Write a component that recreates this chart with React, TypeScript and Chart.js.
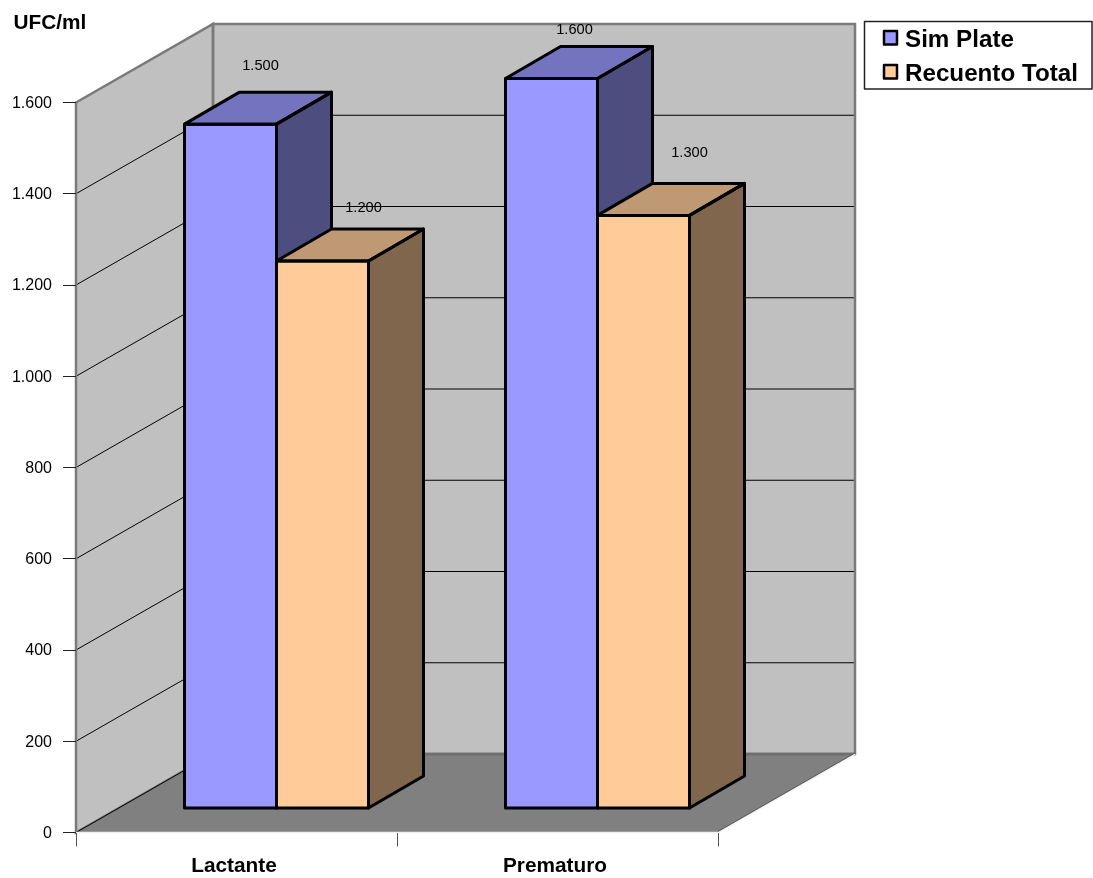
import React, { useEffect, useRef } from "react";
import { Chart, registerables } from "chart.js";

Chart.register(...registerables);

const categories = ["Lactante", "Prematuro"];
const seriesNames = ["Sim Plate", "Recuento Total"];
const simPlate = [1500, 1600];
const recuentoTotal = [1200, 1300];
const yTicks = [0, 200, 400, 600, 800, 1000, 1200, 1400, 1600];

const FONT = "'Liberation Sans', Arial, sans-serif";

// Projection of the 3D box: how far the back wall sits from the front plane,
// where the bars start inside it, and how deep each bar is.
const WALL = { dx: 137, dy: -78.5 };
const BAR_START = { dx: 40, dy: -24 };
const BAR_DEPTH = { dx: 55, dy: -32 };

const faces = [
  { front: "#9999FF", top: "#7373BF", side: "#4D4D80" },
  { front: "#FFCC99", top: "#BF9973", side: "#80664D" },
];

// Value labels float a little off the back edge of each bar top.
const labelNudge = [
  [{ x: 30, y: -26 }, { x: 23, y: -17 }],
  [{ x: 41, y: -21 }, { x: 46, y: -30 }],
];

const fmt = (v: number) => String(v).replace(/\B(?=(\d{3})+$)/g, ".");

const poly = (ctx: CanvasRenderingContext2D, pts: number[][]) => {
  ctx.beginPath();
  pts.forEach(([x, y], i) => (i ? ctx.lineTo(x, y) : ctx.moveTo(x, y)));
  ctx.closePath();
};

const barBox = (el: any) => {
  const l = el.x - el.width / 2;
  const r = el.x + el.width / 2;
  return { l, r, t: el.y, b: el.base };
};

const box3d = {
  id: "box3d",
  // Slide the bars off the front plane of the box
  afterDatasetsUpdate(chart: any) {
    chart.getSortedVisibleDatasetMetas().forEach((meta: any) => {
      meta.data.forEach((el: any) => {
        el.x += BAR_START.dx;
        el.y += BAR_START.dy;
        el.base += BAR_START.dy;
      });
    });
  },
  // Side wall, back wall, floor and their gridlines
  beforeDraw(chart: any) {
    const { ctx, chartArea: a, scales } = chart;
    const y = scales.y;
    const y0 = y.getPixelForValue(0);
    const yMax = y.getPixelForValue(1600);
    const bl = a.left + WALL.dx;
    const br = a.right + WALL.dx;
    const bt = yMax + WALL.dy;
    const bb = y0 + WALL.dy;
    ctx.save();
    ctx.lineJoin = "miter";

    ctx.fillStyle = "#C0C0C0";
    poly(ctx, [[a.left, yMax], [bl, bt], [bl, bb], [a.left, y0]]);
    ctx.fill();
    ctx.beginPath();
    ctx.rect(bl, bt, br - bl, bb - bt);
    ctx.fill();

    ctx.strokeStyle = "#000000";
    ctx.lineWidth = 1;
    yTicks.slice(1, -1).forEach((v) => {
      const p = y.getPixelForValue(v);
      ctx.beginPath();
      ctx.moveTo(a.left, p);
      ctx.lineTo(bl, p + WALL.dy);
      ctx.lineTo(br, p + WALL.dy);
      ctx.stroke();
    });

    ctx.fillStyle = "#808080";
    poly(ctx, [[a.left, y0], [bl, bb], [br, bb], [a.right, y0]]);
    ctx.fill();

    ctx.strokeStyle = "#7A7A7A";
    ctx.lineWidth = 2.5;
    poly(ctx, [[a.left, yMax], [bl, bt], [bl, bb], [a.left, y0]]);
    ctx.stroke();
    ctx.beginPath();
    ctx.rect(bl, bt, br - bl, bb - bt);
    ctx.stroke();

    ctx.strokeStyle = "#6E6E6E";
    ctx.beginPath();
    ctx.moveTo(bl, bb);
    ctx.lineTo(br, bb);
    ctx.stroke();

    ctx.strokeStyle = "#000000";
    ctx.lineWidth = 1;
    ctx.beginPath();
    ctx.moveTo(a.left, y0);
    ctx.lineTo(bl, bb);
    ctx.stroke();

    // Pale front and right rims of the floor
    ctx.strokeStyle = "#F0F0F0";
    ctx.lineWidth = 1.5;
    ctx.beginPath();
    ctx.moveTo(a.left, y0);
    ctx.lineTo(a.right, y0);
    ctx.lineTo(br, bb);
    ctx.stroke();
    ctx.strokeStyle = "#404040";
    ctx.lineWidth = 0.8;
    ctx.beginPath();
    ctx.moveTo(a.right, y0 - 1);
    ctx.lineTo(br, bb - 1);
    ctx.stroke();

    ctx.restore();
  },
  // The library paints back-to-front by reversed index; the boxes here need
  // the opposite, so its per-dataset pass is skipped and done in index order.
  beforeDatasetDraw() {
    return false;
  },
  afterDatasetsDraw(chart: any) {
    const { ctx } = chart;
    ctx.save();

    chart.data.datasets.forEach((_: any, i: number) => {
      const meta = chart.getDatasetMeta(i);
      const colors = faces[i];
      const d = BAR_DEPTH;
      meta.data.forEach((el: any) => {
        const { r, l, t, b } = barBox(el);
        ctx.fillStyle = colors.side;
        poly(ctx, [[r, t], [r + d.dx, t + d.dy], [r + d.dx, b + d.dy], [r, b]]);
        ctx.fill();
        ctx.fillStyle = colors.top;
        poly(ctx, [[l, t], [l + d.dx, t + d.dy], [r + d.dx, t + d.dy], [r, t]]);
        ctx.fill();
      });
      meta.controller.draw();
      ctx.strokeStyle = "#000000";
      ctx.lineWidth = 3;
      ctx.lineJoin = "round";
      meta.data.forEach((el: any) => {
        const { r, l, t, b } = barBox(el);
        poly(ctx, [[l, t], [r, t], [r, b], [l, b]]);
        ctx.stroke();
        poly(ctx, [[r, t], [r + d.dx, t + d.dy], [r + d.dx, b + d.dy], [r, b]]);
        ctx.stroke();
        poly(ctx, [[l, t], [l + d.dx, t + d.dy], [r + d.dx, t + d.dy], [r, t]]);
        ctx.stroke();
      });
    });

    // Value labels, axis caption and legend box
    ctx.fillStyle = "#000000";
    ctx.textBaseline = "middle";

    ctx.font = `14.6px ${FONT}`;
    ctx.textAlign = "center";
    chart.data.datasets.forEach((ds: any, i: number) => {
      chart.getDatasetMeta(i).data.forEach((el: any, j: number) => {
        const n = labelNudge[i][j];
        ctx.fillText(fmt(ds.data[j]), el.x + n.x, el.y + BAR_DEPTH.dy + n.y);
      });
    });

    ctx.textAlign = "left";
    ctx.font = `bold 20.8px ${FONT}`;
    ctx.fillText("UFC/ml", 13.5, 23);

    ctx.strokeStyle = "#222222";
    ctx.lineWidth = 1.5;
    ctx.fillStyle = "#FFFFFF";
    ctx.beginPath();
    ctx.rect(864.5, 21.5, 227.5, 67.5);
    ctx.fill();
    ctx.stroke();

    ctx.font = `bold 24.2px ${FONT}`;
    seriesNames.forEach((name, i) => {
      const rowY = 38 + i * 34;
      ctx.fillStyle = faces[i].front;
      ctx.strokeStyle = "#000000";
      ctx.lineWidth = 2.5;
      ctx.beginPath();
      ctx.rect(884, rowY - 7, 13, 13.5);
      ctx.fill();
      ctx.stroke();
      ctx.fillStyle = "#000000";
      ctx.fillText(name, 905, rowY + 2);
    });
    ctx.restore();
  },
};

export default function App() {
  const ref = useRef<HTMLCanvasElement>(null);

  useEffect(() => {
    const barStyle = { categoryPercentage: 184 / 321, barPercentage: 1, borderWidth: 0 };
    const chart = new Chart(ref.current!, {
      type: "bar",
      data: {
        labels: categories,
        datasets: [
          { label: seriesNames[0], data: simPlate, backgroundColor: faces[0].front, ...barStyle },
          { label: seriesNames[1], data: recuentoTotal, backgroundColor: faces[1].front, ...barStyle },
        ],
      },
      options: {
        animation: false,
        responsive: false,
        layout: { padding: { top: 102.5, right: 375, left: 0, bottom: 0 } },
        plugins: { legend: { display: false }, title: { display: false }, tooltip: { enabled: false } },
        scales: {
          x: {
            offset: true,
            afterFit: (s: any) => { s.height = 45.5; },
            border: { display: false },
            grid: { offset: true, drawOnChartArea: false, tickLength: 14, color: "#555555", tickWidth: 1 },
            ticks: { color: "#000000", font: { family: FONT, size: 20.8, weight: "bold" }, padding: 7, labelOffset: -2.5, maxRotation: 0 },
          },
          y: {
            min: 0,
            max: 1600,
            afterFit: (s: any) => { s.width = 76; },
            afterBuildTicks: (s: any) => { s.ticks = yTicks.map((value) => ({ value })); },
            border: { display: false },
            grid: { drawOnChartArea: false, tickLength: 13, color: "#222222", tickWidth: 1 },
            ticks: { color: "#000000", font: { family: FONT, size: 16 }, padding: 11, labelOffset: 1, callback: (v: any) => fmt(Number(v)) },
          },
        },
      },
      plugins: [box3d],
    });
    return () => chart.destroy();
  }, []);

  return (
    <div style={{ position: "absolute", left: 0, top: 0, width: 1093, height: 878, background: "#FFFFFF" }}>
      <canvas ref={ref} width={1093} height={878} style={{ display: "block" }} />
    </div>
  );
}
